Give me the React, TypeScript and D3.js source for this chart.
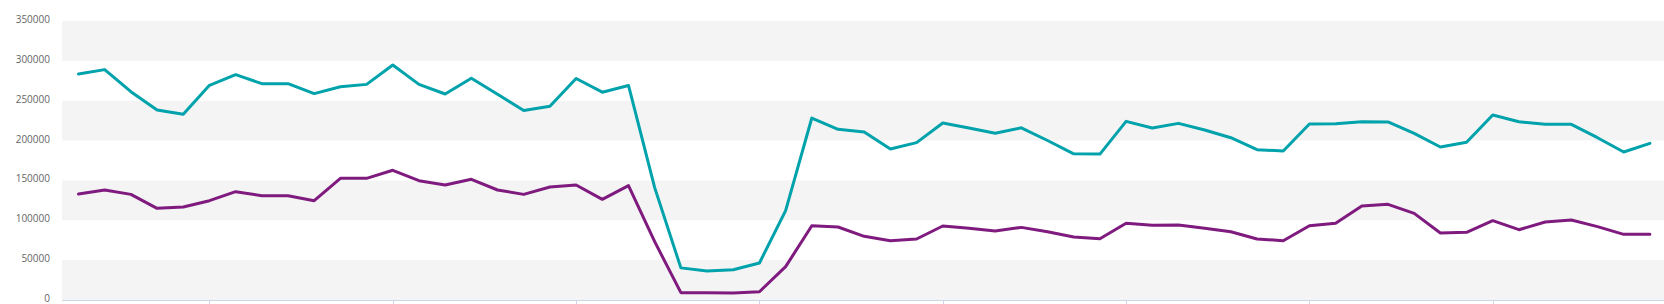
import React from "react";
import * as d3 from "d3";

const days: number[] = d3.range(61);

const seriesTeal: number[] = [
  283500, 289000, 261300, 238300, 232900, 269300, 282700, 271400, 271400, 258900,
  267600, 270500, 294800, 270500, 258400, 278100, 258000, 237800, 243000, 277900,
  260700, 269100, 141000, 40300, 36400, 38000, 46400, 112100, 228300, 214100,
  210800, 189400, 197400, 222000, 215800, 209100, 216000, 200100, 183400, 183000,
  224100, 215800, 221600, 213300, 203600, 188600, 186900, 220800, 221200, 223700,
  223300, 209100, 191900, 197800, 232100, 223700, 220400, 220400, 203600, 185700,
  196500,
];

const seriesPurple: number[] = [
  133000, 138000, 132500, 115000, 116700, 124600, 135900, 130900, 130900, 124600,
  152600, 152600, 162700, 149700, 144300, 151400, 138000, 132500, 141700, 144300,
  126300, 143400, 73200, 9200, 9200, 8800, 10400, 41800, 93200, 91600,
  79900, 74400, 76500, 92800, 89900, 86600, 91100, 85700, 79000, 76900,
  96200, 93700, 94000, 89900, 85700, 76500, 74400, 93200, 96200, 117900,
  120000, 108700, 84000, 84900, 99500, 88200, 97800, 100300, 92000, 82400,
  82400,
];

const yTicks: number[] = [0, 50000, 100000, 150000, 200000, 250000, 300000, 350000];
const xTickDays: number[] = [5, 12, 19, 26, 33, 40, 47, 54];

const W = 1664;
const H = 304;
const plotLeft = 62;
const plotRight = 1664;
const plotTop = 21;
const plotBottom = 300;

export default function App() {
  const x = d3.scaleLinear().domain([0, 60]).range([78.5, 1649.9]);
  const y = d3.scaleLinear().domain([0, 350000]).range([plotBottom, plotTop]);

  const line = d3
    .line<number>()
    .x((_, i) => x(days[i]))
    .y((d) => y(d));

  const bands = yTicks.slice(0, -1).filter((_, i) => i % 2 === 0);

  return (
    <svg
      width={W}
      height={H}
      style={{ position: "absolute", left: 0, top: 0, background: "#fff" }}
    >
      {bands.map((v) => (
        <rect
          key={v}
          x={plotLeft}
          width={plotRight - plotLeft}
          y={y(v + 50000)}
          height={y(v) - y(v + 50000)}
          fill="#f4f4f4"
        />
      ))}
      {yTicks.map((v) => (
        <text
          key={v}
          x={50}
          y={y(v) + 2}
          textAnchor="end"
          fontFamily="'Open Sans', 'Liberation Sans', Arial, sans-serif"
          fontSize={10}
          fill="#666"
        >
          {v}
        </text>
      ))}
      <line
        x1={plotLeft}
        x2={plotRight}
        y1={plotBottom + 0.5}
        y2={plotBottom + 0.5}
        stroke="#ccd6eb"
        strokeWidth={1}
      />
      {xTickDays.map((d) => (
        <line
          key={d}
          x1={Math.round(x(d)) + 0.5}
          x2={Math.round(x(d)) + 0.5}
          y1={plotBottom}
          y2={plotBottom + 10}
          stroke="#ccd6eb"
          strokeWidth={1}
        />
      ))}
      <path
        d={line(seriesTeal) || ""}
        fill="none"
        stroke="#00a2ab"
        strokeWidth={3}
        strokeLinejoin="round"
        strokeLinecap="round"
      />
      <path
        d={line(seriesPurple) || ""}
        fill="none"
        stroke="#7f1a7e"
        strokeWidth={3}
        strokeLinejoin="round"
        strokeLinecap="round"
      />
    </svg>
  );
}
